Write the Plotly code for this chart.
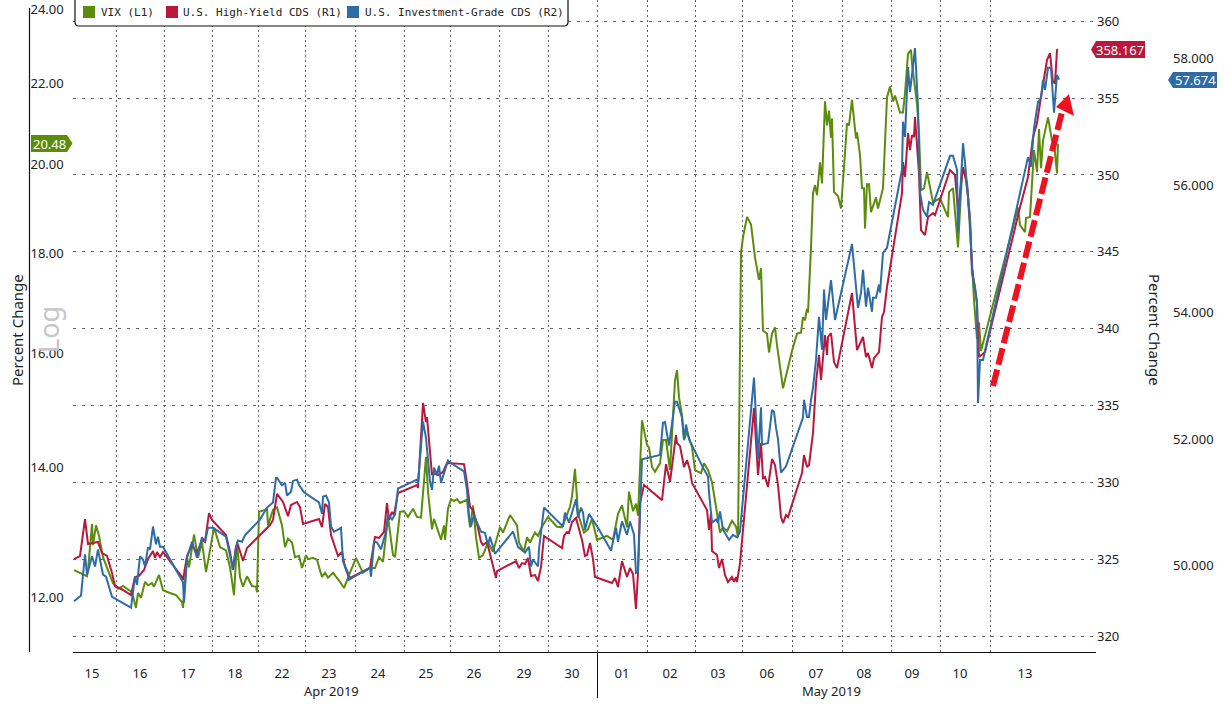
import math
import plotly.graph_objects as go

# Data: x is the intraday bar number along the (gapless) trading axis
vix_bar = [1, 7, 14, 15, 19, 20, 23, 26, 30, 36, 40, 45, 50, 59, 63, 65, 68, 72, 75, 79, 81, 86, 90, 97, 103, 109, 110,
           114, 116, 121, 125, 129, 133, 137, 141, 147, 153, 157, 161, 164, 167, 170, 174, 179, 183, 184, 186, 192, 194,
           195, 200, 204, 209, 212, 215, 219, 222, 226, 229, 233, 235, 240, 244, 249, 252, 255, 260, 267, 271, 275, 283,
           290, 297, 302, 306, 310, 315, 320, 322, 327, 331, 335, 340, 344, 348, 353, 355, 359, 361, 368, 371, 372, 375,
           378, 381, 384, 387, 394, 397, 400, 403, 406, 410, 415, 420, 427, 430, 437, 444, 446, 451, 454, 457, 462, 465,
           469, 475, 484, 489, 497, 499, 502, 505, 511, 515, 519, 524, 534, 540, 545, 549, 554, 556, 560, 563, 565, 569,
           574, 576, 579, 582, 587, 590, 593, 597, 602, 604, 606, 609, 611, 614, 619, 622, 628, 631, 635, 639, 643, 647,
           650, 654, 659, 663, 665, 668, 670, 674, 678, 682, 686, 688, 690, 694, 696, 699, 702, 704, 710, 719, 724, 728,
           730, 732, 734, 735, 738, 740, 742, 744, 747, 749, 752, 754, 756, 758, 759, 761, 765, 768, 772, 774, 776, 779,
           783, 784, 787, 789, 791, 792, 794, 796, 798, 803, 805, 810, 814, 817, 820, 822, 827, 830, 832, 835, 838, 839,
           844, 846, 848, 851, 854, 858, 860, 867, 875, 876, 880, 885, 889, 892, 895, 899, 901, 904, 906, 908, 945, 947,
           952, 953, 957, 959, 961, 964, 966, 968, 970, 975, 979, 981, 984, 985]
vix = [12.40, 12.36, 12.31, 12.40, 13.09, 12.77, 13.07, 12.91, 12.59, 12.36, 12.21, 12.13, 12.17, 12.08, 11.86, 12.07,
       12.00, 12.23, 12.18, 12.21, 12.16, 12.33, 12.11, 12.07, 12.04, 11.94, 11.86, 12.59, 12.44, 12.93, 12.58, 12.81,
       12.37, 12.69, 13.04, 12.74, 12.69, 12.44, 12.04, 12.82, 12.30, 12.16, 12.31, 12.17, 12.16, 12.08, 13.28, 13.31,
       13.33, 13.07, 13.31, 13.35, 13.07, 12.74, 12.87, 12.81, 12.59, 12.61, 12.43, 12.62, 12.56, 12.58, 12.55, 12.30,
       12.36, 12.29, 12.36, 12.23, 12.14, 12.29, 12.58, 12.36, 12.43, 12.43, 12.59, 12.52, 13.20, 12.62, 12.59, 13.28,
       13.29, 13.20, 13.33, 13.20, 13.19, 14.17, 13.60, 13.01, 13.17, 12.85, 13.07, 12.85, 13.33, 13.48, 13.45, 13.48,
       13.42, 13.47, 13.04, 13.38, 12.89, 12.58, 12.62, 12.81, 12.67, 13.04, 12.96, 13.23, 13.07, 12.81, 12.67, 12.89,
       12.81, 12.96, 12.91, 13.05, 13.20, 13.05, 13.04, 13.36, 13.52, 13.97, 13.25, 12.96, 13.01, 13.17, 12.85, 12.91,
       12.85, 13.25, 13.38, 13.04, 13.60, 13.29, 13.41, 13.22, 14.79, 14.37, 14.32, 14.00, 13.92, 14.06, 14.45, 14.45,
       13.95, 15.50, 15.69, 15.20, 14.88, 14.45, 14.60, 14.33, 13.95, 13.90, 14.06, 13.95, 13.75, 13.36, 12.96, 13.04,
       12.98, 13.14, 13.05, 12.89, 18.01, 18.35, 18.79, 18.63, 17.92, 17.45, 17.69, 16.44, 16.38, 16.02, 16.38, 16.50,
       16.16, 15.36, 16.05, 16.38, 16.40, 16.70, 16.64, 16.87, 16.79, 18.13, 19.32, 19.51, 19.28, 20.04, 19.55, 21.53,
       20.93, 21.30, 20.63, 21.10, 19.35, 19.26, 18.98, 20.26, 20.98, 20.93, 21.57, 20.61, 20.76, 20.21, 19.44, 19.44,
       18.54, 19.53, 19.53, 18.90, 19.23, 18.98, 19.44, 21.63, 21.91, 21.53, 21.68, 21.25, 21.25, 21.73, 22.77, 22.88,
       22.51, 21.47, 20.74, 19.39, 19.44, 19.81, 19.32, 19.12, 19.21, 18.79, 19.35, 19.44, 18.13, 19.78, 19.78, 19.23,
       17.80, 17.04, 16.28, 16.60, 16.05, 19.00, 18.61, 18.46, 18.77, 18.79, 19.55, 20.33, 19.81, 20.84, 19.90, 20.56,
       21.13, 20.56, 20.51, 19.78, 20.48]

hy_bar = [1, 7, 12, 15, 20, 25, 29, 34, 39, 42, 50, 58, 62, 66, 71, 75, 80, 82, 84, 87, 90, 94, 109, 110, 114, 119, 124,
          129, 132, 136, 139, 153, 157, 160, 163, 165, 170, 174, 197, 200, 204, 210, 215, 218, 224, 227, 230, 246, 249,
          252, 255, 258, 262, 265, 269, 272, 275, 277, 297, 302, 306, 311, 314, 316, 319, 321, 325, 344, 345, 350, 353,
          354, 359, 360, 365, 370, 374, 391, 394, 397, 400, 405, 408, 410, 414, 419, 423, 424, 443, 446, 449, 452, 455,
          458, 462, 465, 468, 471, 489, 491, 494, 496, 499, 503, 507, 509, 512, 514, 517, 520, 522, 539, 542, 545, 549,
          554, 557, 560, 563, 565, 567, 571, 589, 593, 597, 603, 604, 607, 611, 614, 617, 619, 634, 636, 638, 639, 644,
          646, 649, 652, 655, 659, 661, 663, 664, 667, 681, 685, 688, 690, 692, 695, 699, 702, 705, 708, 710, 713, 715,
          729, 731, 734, 736, 740, 743, 746, 748, 752, 754, 755, 758, 761, 764, 779, 784, 788, 790, 793, 795, 799, 801,
          806, 809, 811, 814, 829, 830, 832, 835, 837, 839, 841, 842, 846, 848, 852, 855, 860, 862, 877, 882, 885, 890,
          894, 897, 899, 904, 906, 912, 947, 955, 960, 964, 967, 970, 974, 977, 980, 982, 984, 985]
hy = [325.04, 325.24, 327.64, 326.02, 326.08, 326.15, 325.43, 325.24, 324.13, 323.29, 323.03, 322.70, 323.87, 323.94,
      324.33, 325.04, 325.56, 325.11, 325.50, 325.17, 325.50, 325.17, 323.87, 323.68, 325.24, 325.95, 325.43, 326.28,
      326.15, 328.03, 327.58, 326.60, 325.50, 324.33, 325.82, 325.95, 324.91, 325.76, 327.25, 327.58, 329.27, 328.75,
      327.83, 328.55, 328.75, 328.42, 327.32, 327.64, 327.12, 328.62, 328.42, 326.60, 325.82, 325.24, 325.50, 324.52,
      324.00, 323.81, 324.46, 326.47, 326.41, 326.80, 328.68, 327.58, 328.10, 327.90, 329.33, 329.85, 329.66, 335.18,
      333.94, 334.27, 330.50, 330.63, 330.50, 330.70, 331.28, 331.21, 329.98, 328.42, 328.23, 327.06, 326.15, 325.95,
      326.15, 324.78, 323.81, 324.26, 324.91, 324.46, 324.78, 324.72, 325.11, 323.94, 324.00, 323.61, 324.52, 326.54,
      325.76, 326.54, 326.80, 326.73, 327.45, 327.71, 326.73, 326.28, 325.24, 325.30, 326.08, 325.04, 323.87, 323.48,
      323.81, 323.22, 324.91, 323.87, 324.46, 324.07, 321.79, 324.20, 328.68, 329.85, 328.87, 331.21, 330.05, 333.10,
      332.58, 332.38, 331.02, 331.47, 330.82, 329.98, 328.23, 326.93, 328.03, 325.56, 325.30, 324.46, 325.04, 324.00,
      323.55, 323.87, 323.55, 323.87, 323.55, 324.78, 334.85, 330.50, 332.58, 330.30, 330.37, 329.72, 331.54, 331.15,
      329.85, 327.77, 327.38, 327.90, 327.77, 330.63, 331.80, 331.02, 331.15, 333.23, 336.48, 338.30, 336.67, 339.60,
      338.30, 339.47, 339.73, 337.84, 337.45, 342.33, 338.62, 339.27, 339.47, 338.17, 338.43, 337.45, 338.10, 338.49,
      340.77, 341.09, 342.72, 348.82, 350.84, 349.87, 352.72, 351.62, 352.59, 352.46, 353.76, 350.12, 346.42, 346.09,
      347.27, 347.52, 347.39, 350.32, 350.00, 347.72, 350.51, 349.47, 347.07, 343.95, 341.68, 338.17, 338.49, 347.91,
      349.87, 352.46, 353.37, 354.67, 355.84, 357.47, 357.92, 356.04, 355.97, 358.12, 358.167]

ig_bar = [1, 8, 12, 14, 19, 22, 25, 30, 33, 39, 58, 62, 64, 67, 70, 72, 75, 77, 80, 83, 85, 87, 90, 110, 111, 114, 119,
          124, 129, 132, 135, 140, 153, 160, 163, 165, 169, 172, 187, 194, 200, 203, 204, 209, 212, 214, 218, 220, 224,
          226, 231, 246, 249, 250, 253, 256, 258, 261, 265, 268, 270, 275, 276, 297, 298, 301, 304, 308, 313, 315, 319,
          322, 325, 344, 345, 350, 353, 357, 359, 361, 364, 366, 368, 375, 377, 391, 394, 396, 398, 401, 404, 408, 412,
          415, 417, 422, 440, 445, 452, 456, 458, 460, 465, 466, 471, 490, 492, 496, 503, 505, 508, 510, 512, 516, 525,
          538, 543, 545, 549, 554, 557, 561, 563, 565, 569, 587, 590, 592, 596, 602, 604, 609, 611, 613, 616, 620, 630,
          635, 636, 639, 643, 645, 647, 650, 656, 660, 664, 667, 681, 685, 688, 689, 695, 699, 701, 703, 705, 708, 713,
          730, 731, 734, 736, 738, 740, 743, 746, 749, 751, 753, 758, 762, 779, 785, 788, 790, 793, 795, 799, 800, 803,
          806, 807, 810, 814, 829, 830, 832, 835, 837, 842, 845, 847, 850, 854, 856, 860, 877, 880, 884, 885, 890, 892,
          897, 899, 902, 904, 905, 907, 910, 955, 958, 961, 965, 968, 970, 972, 975, 978, 981, 984, 986]
ig = [49.44, 49.53, 50.18, 49.86, 50.15, 49.99, 50.26, 49.86, 49.83, 49.51, 49.34, 49.83, 49.70, 50.15, 50.10, 49.99,
      50.29, 50.26, 50.62, 50.34, 50.46, 50.30, 50.30, 49.74, 49.42, 50.13, 50.38, 50.13, 50.45, 50.38, 50.60, 50.60,
      50.46, 49.94, 50.30, 50.40, 50.38, 50.48, 50.73, 50.92, 51.00, 51.39, 51.39, 51.27, 51.31, 51.11, 51.17, 51.34,
      51.36, 51.28, 51.16, 51.00, 50.82, 51.09, 51.11, 51.00, 50.62, 50.54, 50.57, 50.60, 50.07, 49.89, 49.78, 49.97,
      49.83, 50.38, 50.37, 50.26, 50.54, 50.81, 50.73, 50.81, 51.22, 51.36, 51.31, 52.28, 52.02, 51.33, 51.20, 51.55,
      51.44, 51.58, 51.31, 51.66, 51.63, 51.49, 51.20, 50.76, 50.62, 50.81, 50.68, 50.54, 50.52, 50.32, 50.46, 50.19,
      50.54, 50.30, 50.21, 50.30, 49.99, 50.10, 49.99, 50.26, 50.92, 50.62, 50.84, 50.68, 51.05, 50.76, 50.92, 50.84,
      50.57, 50.82, 50.60, 50.24, 50.60, 50.38, 50.70, 50.49, 50.70, 50.49, 49.89, 49.91, 51.68, 51.75, 52.26, 52.27,
      51.90, 52.59, 52.59, 52.34, 52.00, 52.23, 52.00, 51.87, 51.55, 51.41, 51.16, 50.68, 50.73, 50.68, 50.86, 50.57,
      50.41, 50.49, 50.45, 50.54, 52.97, 51.68, 52.50, 51.91, 51.94, 52.46, 52.43, 52.18, 52.00, 51.47, 51.57, 52.34,
      52.62, 52.35, 52.35, 52.62, 52.81, 53.25, 53.93, 53.41, 54.36, 53.88, 54.51, 53.88, 55.08, 54.07, 54.31, 54.67,
      54.09, 54.39, 54.01, 54.23, 54.23, 54.44, 54.31, 54.94, 55.02, 56.25, 57.01, 56.77, 57.87, 57.48, 58.17, 57.24,
      55.89, 55.62, 55.51, 55.74, 55.70, 56.47, 56.47, 56.25, 55.26, 56.67, 56.36, 55.46, 54.62, 54.40, 54.15, 52.57,
      53.25, 53.25, 56.45, 56.30, 56.91, 57.32, 57.38, 57.67, 57.51, 57.86, 57.86, 57.15, 57.75, 57.674]

day_labels = ["15", "16", "17", "18", "22", "23", "24", "25", "26", "29", "30",
              "01", "02", "03", "06", "07", "08", "09", "10", "13"]
day_centers = [19, 67, 115, 162, 209, 256, 305, 353, 401, 451, 499,
               549, 597, 645, 694, 743, 791, 839, 887, 952]
day_edges = [43, 91, 139.5, 185, 232, 282, 331, 377, 426, 475, 524.5,
             574, 622, 669.5, 719, 769, 818, 867, 917]

vix_ticks = [12, 14, 16, 18, 20, 22, 24]
cds_ticks = [320, 325, 330, 335, 340, 345, 350, 355, 360]
ig_ticks = [50, 52, 54, 56, 58]

GREEN = "#5c8c0c"
RED = "#b9183c"
BLUE = "#2f6ca6"
ARROW = "#ec1220"
GRID = "#666666"
TEXT = "#222222"
FONT = "Noto Sans"
W, H = 1225, 704


# overlays (legend, tags, arrow) are placed by picture position
def px(x):
    return x / W


def py(y):
    return 1 - y / H


def poly(points, color):
    path = "M" + " L".join(f"{px(x):.5f},{py(y):.5f}" for x, y in points) + " Z"
    return dict(type="path", xref="paper", yref="paper", path=path,
                fillcolor=color, line=dict(width=0), layer="above")


def label(x, y, text, size=13, color=TEXT, anchor="center", angle=0, family=FONT):
    return dict(xref="paper", yref="paper", x=px(x), y=py(y), text=text, showarrow=False,
                xanchor=anchor, yanchor="middle", textangle=angle,
                font=dict(family=family, size=size, color=color))


fig = go.Figure()
fig.add_trace(go.Scatter(x=hy_bar, y=hy, mode="lines", name="U.S. High-Yield CDS (R1)", yaxis="y2",
                         line=dict(color=RED, width=2)))
fig.add_trace(go.Scatter(x=ig_bar, y=ig, mode="lines", name="U.S. Investment-Grade CDS (R2)", yaxis="y3",
                         line=dict(color=BLUE, width=2)))
fig.add_trace(go.Scatter(x=vix_bar, y=vix, mode="lines", name="VIX (L1)", yaxis="y",
                         line=dict(color=GREEN, width=2)))

shapes = [
    # left axis line and the month separator
    dict(type="line", xref="paper", yref="paper", x0=px(29.5), x1=px(29.5), y0=py(8), y1=py(652),
         line=dict(color="#111111", width=1.2)),
    dict(type="line", xref="paper", yref="paper", x0=px(597.5), x1=px(597.5), y0=py(652), y1=py(698),
         line=dict(color="#111111", width=1)),
    # legend box
    dict(type="path", xref="paper", yref="paper", fillcolor="white", layer="above",
         line=dict(color="#111111", width=1.2),
         path=f"M{px(75)},{py(-3)} L{px(75)},{py(22)} Q{px(75)},{py(26)} {px(79)},{py(26)} "
              f"L{px(564)},{py(26)} Q{px(568)},{py(26)} {px(568)},{py(22)} L{px(568)},{py(-3)} Z"),
    # last value tags
    poly([(31, 135), (67, 135), (72.5, 143.5), (67, 152), (31, 152)], GREEN),
    poly([(1091, 49.5), (1096, 41), (1145, 41), (1145, 58), (1096, 58)], RED),
    poly([(1168, 80), (1173, 72), (1217, 72), (1217, 88), (1173, 88)], BLUE),
    # red arrow
    dict(type="line", xref="paper", yref="paper", x0=px(993), y0=py(386), x1=px(1063), y1=py(108),
         line=dict(color=ARROW, width=6, dash="17px,5px"), layer="above"),
    poly([(1069, 94), (1056, 107), (1074, 116)], ARROW),
]
for x0, color in [(83, GREEN), (166, RED), (347, BLUE)]:
    shapes.append(poly([(x0, 6), (x0 + 12, 6), (x0 + 12, 18), (x0, 18)], color))

annotations = [
    label(331, 691, "Apr 2019"),
    label(831, 691, "May 2019"),
    label(17, 330, "Percent Change", size=15, angle=-90),
    label(1155, 330, "Percent Change", size=15, angle=90),
    label(48, 330, "Log", size=27, color="#c6c6c6", angle=-90),
    label(49, 143.5, "20.48", color="white"),
    label(1120, 49.5, "358.167", color="white"),
    label(1195, 80, "57.674", color="white"),
    label(99, 12, "VIX (L1)", size=11, anchor="left", family="DejaVu Sans Mono"),
    label(181, 12, "U.S. High-Yield CDS (R1)", size=11, anchor="left", family="DejaVu Sans Mono"),
    label(363, 12, "U.S. Investment-Grade CDS (R2)", size=11, anchor="left", family="DejaVu Sans Mono"),
]

fig.update_layout(
    width=W, height=H,
    margin=dict(l=0, r=0, t=0, b=0),
    paper_bgcolor="white", plot_bgcolor="white",
    showlegend=False,
    font=dict(family=FONT, size=13, color=TEXT),
    xaxis=dict(
        domain=[73 / W, 1096 / W], range=[0, 1023], tickmode="array",
        tickvals=day_centers, ticktext=day_labels, showgrid=False, zeroline=False,
        showline=True, linecolor="#111111", linewidth=1.2,
        ticks="outside", ticklen=9, tickcolor="rgba(0,0,0,0)",
        minor=dict(tickmode="array", tickvals=day_edges, showgrid=True, griddash="2px,3px",
                   gridcolor=GRID, gridwidth=1, ticks=""),
    ),
    yaxis=dict(
        domain=[52 / H, 1], type="log", range=[math.log10(11.26), math.log10(24.26)],
        tickmode="array", tickvals=vix_ticks, ticktext=[f"{v:.2f}" for v in vix_ticks],
        side="right", anchor="free", position=29.5 / W, showgrid=False, zeroline=False,
        showline=False, ticks="", ticklabeloverflow="allow",
    ),
    yaxis2=dict(
        domain=[52 / H, 1], range=[319.0, 361.37], overlaying="y", tickmode="array", tickvals=cds_ticks,
        side="right", anchor="free", position=1096 / W, showgrid=True, griddash="3px,6px",
        gridcolor=GRID, gridwidth=1, zeroline=False, showline=False, ticks="",
    ),
    yaxis3=dict(
        domain=[52 / H, 1], range=[48.64, 58.93], overlaying="y", tickmode="array", tickvals=ig_ticks,
        ticktext=[f"{v:.3f}" for v in ig_ticks],
        side="right", anchor="free", position=1172 / W, showgrid=False, zeroline=False,
        showline=False, ticks="",
    ),
    shapes=shapes,
    annotations=annotations,
)

# the page's default body margin would push the figure 8px off
fig.write_html("out.html", config=dict(displayModeBar=False), post_script="document.body.style.margin='0';")
